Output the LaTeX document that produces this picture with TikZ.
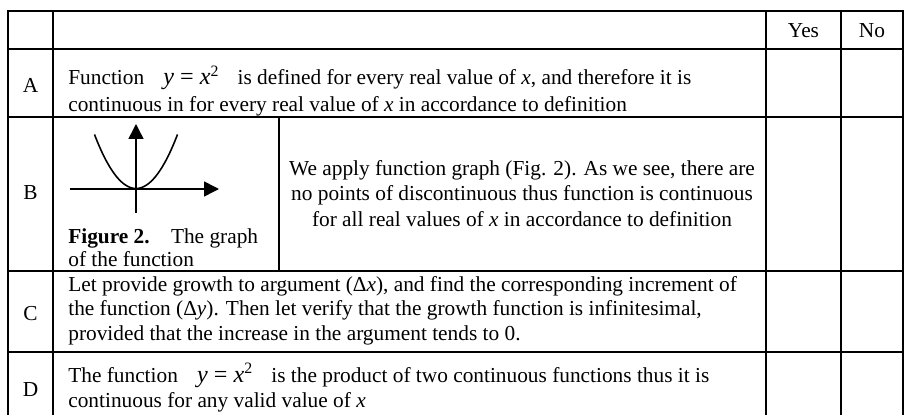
\documentclass[tikz,border=0pt]{standalone}
\usepackage{fontspec}
\setmainfont{Liberation Serif}
\usetikzlibrary{arrows.meta}
\newcommand{\yeqxsq}{{\fontsize{14.5}{16}\selectfont\textit{y}\hspace{0.25em}=\hspace{0.25em}\textit{x}\raisebox{0.36em}{\fontsize{9.5}{10}\selectfont 2}}}
\begin{document}
\begin{tikzpicture}[x=0.6pt,y=-0.6pt,
  rule/.style={line width=1.15pt,line cap=rect},
  txt/.style={anchor=base west,inner sep=0pt,font=\fontsize{12.8}{14}\selectfont},
  ctr/.style={anchor=base,inner sep=0pt,font=\fontsize{12.8}{14}\selectfont},
  axis/.style={line width=0.95pt,-{Triangle[length=9pt,width=9pt]}},
  curve/.style={line width=0.95pt}]
\useasboundingbox (0,0) rectangle (904,415);
\clip (0,0) rectangle (904,415);
% horizontal rules
\foreach \yy in {11,49,117,271,352}
  \draw[rule] (8,\yy) -- (903,\yy);
% vertical rules
\foreach \xx in {8,53,766,841,903}
  \draw[rule] (\xx,11) -- (\xx,420);
\draw[rule] (279,117) -- (279,271);
% header
\node[ctr] (yes) at (803.5,38) {Yes};
\node[ctr] (no) at (872,38) {No};
% row letters
\node[ctr] (la) at (30.5,93) {A};
\node[ctr] (lb) at (30.5,200) {B};
\node[ctr] (lc) at (30.5,320) {C};
\node[ctr] (ld) at (30.5,396) {D};
% row A
\node[txt] (a1) at (68,85) {Function\hspace{0.9em}\yeqxsq\hspace{0.9em}is defined for every real value of \textit{x}, and therefore it is};
\node[txt] (a2) at (68,112) {continuous in for every real value of \textit{x} in accordance to definition};
% row B figure
\coordinate (xs) at (70,189);
\coordinate (xe) at (219,189);
\coordinate (ys) at (136,213);
\coordinate (ye) at (136,124);
\draw[axis] (xs) -- (xe);
\draw[axis] (ys) -- (ye);
\draw[curve] plot[domain=-41.5:41.5,samples=80,smooth] ({136+\x},{188.5-54*(\x/41.5)*(\x/41.5)});
\node[txt] (cap1) at (68,243.5) {\textbf{Figure 2.}\hspace{1.0em}The graph};
\node[txt] (cap2) at (68,266.5) {of the function};
% row B text
\node[ctr] (b1) at (522,175.5) {We apply function graph (Fig. 2). As we see, there are};
\node[ctr] (b2) at (522,201) {no points of discontinuous thus function is continuous};
\node[ctr] (b3) at (522,226.5) {for all real values of \textit{x} in accordance to definition};
% row C
\node[txt] (c1) at (68,291) {Let provide growth to argument (Δ\textit{x}), and find the corresponding increment of};
\node[txt] (c2) at (68,315.5) {the function (Δ\textit{y}). Then let verify that the growth function is infinitesimal,};
\node[txt] (c3) at (68,340) {provided that the increase in the argument tends to 0.};
% row D
\node[txt] (d1) at (68,382) {The function\hspace{0.9em}\yeqxsq\hspace{0.9em}is the product of two continuous functions thus it is};
\node[txt] (d2) at (68,407) {continuous for any valid value of \textit{x}};
\end{tikzpicture}
\end{document}
